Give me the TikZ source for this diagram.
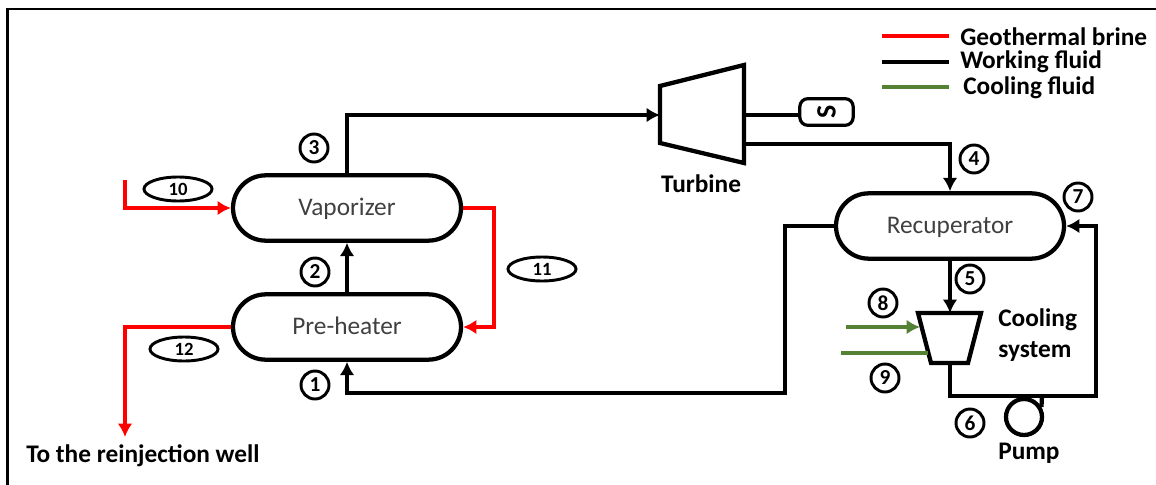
\documentclass[tikz,border=0pt]{standalone}
\usepackage{fontspec}
\setmainfont{Carlito}
\usepackage{xcolor}
\usepackage{tikz}
\usetikzlibrary{arrows.meta,shapes.misc,shapes.geometric}
\definecolor{brinered}{RGB}{255,0,0}
\definecolor{coolgreen}{RGB}{84,130,53}
\tikzset{
    vessel/.style={rounded rectangle, draw, line width=3.2pt, minimum width=171pt, minimum height=49pt, inner sep=0pt, text height=10.5pt, text depth=0pt, text=black!75, font=\fontsize{19}{21}\selectfont},
    statenum/.style={circle, draw, line width=2.2pt, minimum size=21pt, inner sep=0pt, font=\fontsize{16}{17}\selectfont\bfseries},
    brinenum/.style={ellipse, draw, line width=2.2pt, minimum width=51pt, minimum height=18pt, inner sep=0pt, font=\fontsize{14}{15}\selectfont\bfseries},
    plainlabel/.style={inner sep=0pt, font=\fontsize{19}{21}\selectfont\bfseries},
    working/.style={line width=3.2pt, black},
    brine/.style={line width=3.2pt, brinered},
    cooling/.style={line width=3.2pt, coolgreen},
    tip/.style={-{Latex[length=10pt,width=11pt]}}
}
\begin{document}
\begin{tikzpicture}[x=0.75pt, y=-0.75pt]
        \useasboundingbox (0,0) rectangle (1156,485);

        % Frame
        \draw [line width=2.2pt] (7.5,485) -- (7.5,9) -- (1156,9);

        % Vessels
        \node [vessel] (vaporizer) at (347,208) {Vaporizer};
        \node [vessel] (preheater) at (347,327) {Pre-heater};
        \node [vessel] (recuperator) at (950,226) {Recuperator};

        % Turbine and generator
        \coordinate (tin) at (660,115);
        \coordinate (tshaft) at (744,115);
        \coordinate (tout) at (744,144);
        \draw [working, line join=miter] (660,86) -- (744,65) -- (744,163) -- (660,143) -- cycle;
        \node [draw, rounded corners=6pt, line width=2.4pt, minimum width=40pt, minimum height=20pt, inner sep=0pt] (generator) at (826.5,112) {\rotatebox{90}{\fontsize{21}{22}\selectfont\bfseries S}};
        \node [plainlabel] (turbinelabel) at (701,184) {Turbine};

        % Cooling system
        \coordinate (ctop) at (950,313);
        \coordinate (cbot) at (950,363);
        \coordinate (cin) at (920,327);
        \coordinate (cout) at (928,353);
        \draw [working] (918,313) -- (981,313) -- (968,363) -- (931,363) -- cycle;
        \node [plainlabel, anchor=west] (coolinglabel) at (998,320) {Cooling};
        \node [plainlabel, anchor=west] (systemlabel) at (998,351) {system};

        % Pump
        \node [circle, draw, line width=3.2pt, minimum size=27pt, inner sep=0pt] (pump) at (1024,417) {};
        \node [plainlabel, anchor=west] (pumplabel) at (998,453) {Pump};
        \coordinate (bend) at (1096,396);
        \coordinate (pumptop) at (1042,396);
        \draw [working] (pumptop) -- (pump.30);

        % Working fluid
        \draw [working, tip] (preheater.north) -- (vaporizer.south);
        \draw [working, tip] (vaporizer.north) |- (tin);
        \draw [working] (tshaft) -- (generator.west |- tshaft);
        \draw [working, tip] (tout) -| (recuperator.north);
        \draw [working, tip] (recuperator.south) -- (ctop);
        \draw [working, tip] (cbot) |- (bend) |- (recuperator.east);
        \coordinate (back) at (785,393);
        \draw [working, tip] (recuperator.west) -| (back) -| (preheater.south);

        % Geothermal brine
        \coordinate (brinein) at (125,180);
        \coordinate (brineout) at (125,437);
        \coordinate (brineside) at (494,268);
        \draw [brine, tip] (brinein) |- (vaporizer.west);
        \draw [brine, tip] (vaporizer.east) -| (brineside) |- (preheater.east);
        \draw [brine, tip] (preheater.west) -| (brineout);
        \node [plainlabel, anchor=west] (welllabel) at (26,456) {To the reinjection well};

        % Cooling fluid
        \coordinate (greena) at (846,327);
        \coordinate (greenb) at (841,353);
        \draw [cooling, tip] (greena) -- (cin);
        \draw [cooling] (greenb) -- (cout);

        % State numbers
        \node [statenum] (n1) at (315,385) {1};
        \node [statenum] (n2) at (315,272) {2};
        \node [statenum] (n3) at (314,148) {3};
        \node [statenum] (n4) at (974,159) {4};
        \node [statenum] (n5) at (970,279) {5};
        \node [statenum] (n6) at (970,423) {6};
        \node [statenum] (n7) at (1078,197) {7};
        \node [statenum] (n8) at (883,303) {8};
        \node [statenum] (n9) at (885,378) {9};
        \node [brinenum] (n10) at (178,189) {10};
        \node [brinenum] (n11) at (542,269) {11};
        \node [brinenum] (n12) at (184,349) {12};

        % Legend
        \coordinate (la) at (882,36);
        \coordinate (lb) at (949,36);
        \coordinate (lc) at (882,62);
        \coordinate (ld) at (949,62);
        \coordinate (le) at (882,87);
        \coordinate (lf) at (949,87);
        \draw [brine] (la) -- (lb);
        \draw [working] (lc) -- (ld);
        \draw [cooling] (le) -- (lf);
        \node [plainlabel, anchor=west] (legbrine) at (960,37) {Geothermal brine};
        \node [plainlabel, anchor=west] (legworking) at (960,62) {Working fluid};
        \node [plainlabel, anchor=west] (legcooling) at (963,88) {Cooling fluid};
\end{tikzpicture}
\end{document}
